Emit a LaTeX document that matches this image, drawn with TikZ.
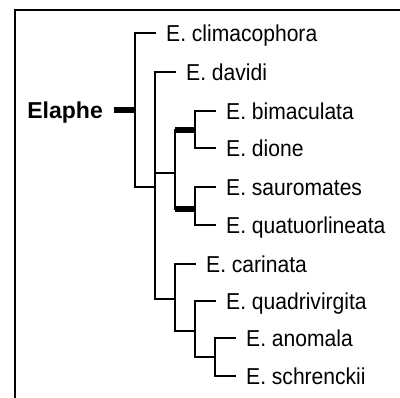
\documentclass[tikz,border=0pt]{standalone}
\usepackage{fontspec}
\setmainfont{Liberation Sans}[FakeStretch=0.916]
\newfontfamily\rootfont{Liberation Sans}
\usepackage{tikz}
\usetikzlibrary{positioning}

\begin{document}
\begin{tikzpicture}[x=1pt,y=-1pt,
  leaf/.style={anchor=west,inner xsep=10pt,inner ysep=0pt,text height=16.5pt,text depth=0pt,font=\fontsize{23}{27}\selectfont},
  rootlabel/.style={inner xsep=11pt,inner ysep=0pt,text height=16.5pt,text depth=0pt,font=\rootfont\bfseries\fontsize{23}{27}\selectfont},
  branch/.style={line width=1.6pt},
  stem/.style={line width=5.5pt},
  frame/.style={line width=1.8pt}]
  \useasboundingbox (0,0) rectangle (400,398);
  \draw[frame] (15,398) -- (15,10) -- (400,10);
  % inner nodes of the tree
  \coordinate (R) at (135,110);
  \coordinate (N1) at (155,187);
  \coordinate (NA) at (175,173);
  \coordinate (P1) at (195,130);
  \coordinate (P2) at (195,209);
  \coordinate (NB) at (175,299);
  \coordinate (NC) at (195,331);
  \coordinate (ND) at (215,357);
  \node[rootlabel,left=21pt of R] (elaphe) {Elaphe};
  % leaves
  \node[leaf] (clim) at (156,33) {E. climacophora};
  \node[leaf] (davi) at (176,72) {E. davidi};
  \node[leaf] (bima) at (216,111) {E. bimaculata};
  \node[leaf] (dion) at (216,148) {E. dione};
  \node[leaf] (saur) at (216,187) {E. sauromates};
  \node[leaf] (quat) at (216,225) {E. quatuorlineata};
  \node[leaf] (cari) at (196,264) {E. carinata};
  \node[leaf] (quad) at (216,301) {E. quadrivirgita};
  \node[leaf] (anom) at (236,338) {E. anomala};
  \node[leaf] (schr) at (236,376) {E. schrenckii};
  % branches
  \draw[stem] (elaphe.east) -- (R);
  \draw[branch] (R) |- (clim.west);
  \draw[branch] (R) |- (N1);
  \draw[branch] (N1) |- (davi.west);
  \draw[branch] (N1) |- (NA);
  \draw[branch] (N1) |- (NB);
  \draw[branch] (NA) |- (P1);
  \draw[branch] (NA) |- (P2);
  \draw[stem] (NA |- P1) -- (P1);
  \draw[stem] (NA |- P2) -- (P2);
  \draw[branch] (P1) |- (bima.west);
  \draw[branch] (P1) |- (dion.west);
  \draw[branch] (P2) |- (saur.west);
  \draw[branch] (P2) |- (quat.west);
  \draw[branch] (NB) |- (cari.west);
  \draw[branch] (NB) |- (NC);
  \draw[branch] (NC) |- (quad.west);
  \draw[branch] (NC) |- (ND);
  \draw[branch] (ND) |- (anom.west);
  \draw[branch] (ND) |- (schr.west);
\end{tikzpicture}
\end{document}
